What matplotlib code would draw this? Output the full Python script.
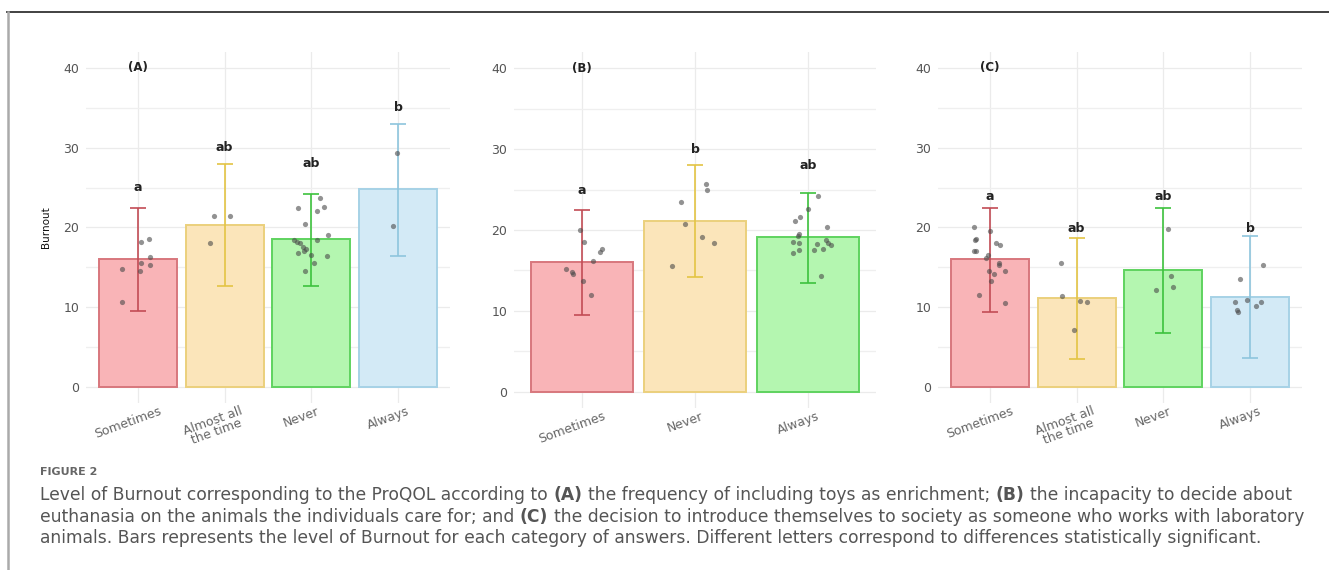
import matplotlib
matplotlib.use("Agg")
import matplotlib.pyplot as plt
import matplotlib.transforms as mtransforms

W, H = 1329, 570

# ---------------- data ----------------
cats_A = ["Sometimes", "Almost all\nthe time", "Never", "Always"]
means_A = [16.0, 20.3, 18.5, 24.8]
lo_A = [9.5, 12.7, 12.7, 16.4]
hi_A = [22.5, 27.9, 24.2, 33.0]
letters_A = ["a", "ab", "ab", "b"]
letter_y_A = [25.0, 30.0, 28.0, 35.0]
pts_A = [
    [(0.04, 18.2), (0.13, 18.6), (0.14, 16.3), (0.04, 15.6), (0.14, 15.3), (-0.19, 14.8), (0.02, 14.5), (-0.19, 10.6)],
    [(-0.12, 21.4), (0.06, 21.4), (-0.17, 18.0)],
    [(0.10, 23.7), (-0.15, 22.5), (0.15, 22.6), (0.06, 22.1), (-0.07, 20.4), (0.19, 19.1), (0.06, 18.4),
     (-0.20, 18.4), (-0.17, 18.2), (-0.13, 18.0), (-0.10, 17.6), (-0.06, 17.3), (-0.15, 16.8), (-0.08, 17.0),
     (0.00, 16.5), (0.18, 16.4), (0.03, 15.5), (-0.07, 14.5)],
    [(-0.01, 29.3), (-0.06, 20.2)],
]

cats_B = ["Sometimes", "Never", "Always"]
means_B = [16.0, 21.1, 19.1]
lo_B = [9.5, 14.2, 13.5]
hi_B = [22.5, 28.0, 24.6]
letters_B = ["a", "b", "ab"]
letter_y_B = [24.9, 29.9, 28.0]
pts_B = [
    [(-0.02, 20.0), (0.02, 18.5), (0.18, 17.6), (0.16, 17.3), (0.10, 16.2), (-0.14, 15.2), (-0.09, 14.8),
     (-0.08, 14.6), (0.01, 13.7), (0.08, 12.0)],
    [(0.10, 25.7), (0.11, 25.0), (-0.12, 23.5), (-0.09, 20.7), (0.06, 19.1), (0.17, 18.4), (-0.20, 15.6)],
    [(0.09, 24.2), (0.00, 22.6), (-0.07, 21.6), (-0.12, 21.1), (0.17, 20.4), (-0.08, 19.5), (-0.09, 19.2),
     (-0.13, 18.5), (-0.08, 18.4), (0.08, 18.3), (0.16, 18.8), (0.18, 18.4), (0.20, 18.1), (0.13, 17.7),
     (0.05, 17.5), (-0.08, 17.5), (-0.13, 17.2), (0.11, 14.3)],
]

cats_C = ["Sometimes", "Almost all\nthe time", "Never", "Always"]
means_C = [16.1, 11.1, 14.7, 11.3]
lo_C = [9.4, 3.5, 6.8, 3.6]
hi_C = [22.5, 18.7, 22.4, 18.9]
letters_C = ["a", "ab", "ab", "b"]
letter_y_C = [23.9, 19.9, 23.9, 19.9]
pts_C = [
    [(-0.18, 20.1), (-0.16, 18.6), (-0.17, 18.4), (0.00, 19.5), (0.07, 18.0), (0.12, 17.8), (-0.19, 17.1),
     (-0.16, 17.1), (-0.02, 16.5), (-0.05, 16.2), (0.10, 15.6), (0.10, 15.3), (-0.01, 14.6), (0.17, 14.6),
     (0.05, 14.2), (0.01, 13.3), (-0.13, 11.6), (0.17, 10.5)],
    [(-0.18, 15.6), (-0.17, 11.4), (0.04, 10.8), (0.12, 10.7), (-0.03, 7.1)],
    [(0.05, 19.8), (0.09, 13.9), (0.11, 12.5), (-0.08, 12.2)],
    [(0.15, 15.3), (-0.12, 13.5), (-0.03, 10.9), (-0.17, 10.6), (0.13, 10.6), (0.07, 10.2), (-0.15, 9.6),
     (-0.14, 9.4)],
]

panel_tags = ["(A)", "(B)", "(C)"]
yticks = [0, 10, 20, 30, 40]
ylabel = "Burnout"

fill_cols = ["#F9B4B7", "#FBE5BA", "#B4F6B0", "#D3EAF6"]
edge_cols = ["#D8777D", "#EBD07C", "#5FD35F", "#A6D2E6"]
err_cols = ["#C24C55", "#E3C444", "#3DC23D", "#8EC5DD"]

caption_head = "FIGURE 2"
caption_lines = [
    [("Level of Burnout corresponding to the ProQOL according to", "normal"), ("(A)", "bold"),
     ("the frequency of including toys as enrichment;", "normal"), ("(B)", "bold"),
     ("the incapacity to decide about", "normal")],
    [("euthanasia on the animals the individuals care for; and", "normal"), ("(C)", "bold"),
     ("the decision to introduce themselves to society as someone who works with laboratory", "normal")],
    [("animals. Bars represents the level of Burnout for each category of answers. Different letters correspond to differences statistically significant.", "normal")],
]

# ---------------- figure ----------------
fig = plt.figure(figsize=(W / 100, H / 100), dpi=100)
fig.patch.set_facecolor("white")


def px_axes(left, top, right, bottom):
    return fig.add_axes([left / W, 1 - bottom / H, (right - left) / W, (bottom - top) / H])


def draw_panel(ax, cats, means, lo, hi, letters, letter_y, pts, tag, show_ylabel):
    n = len(cats)
    xs = list(range(n))
    ax.set_xlim(-0.6, n - 0.4)
    ax.set_ylim(-2, 42)
    for s in ax.spines.values():
        s.set_visible(False)
    ax.set_yticks(yticks)
    ax.set_yticks([5, 15, 25, 35], minor=True)
    ax.set_xticks(xs)
    ax.set_xticklabels([""] * n)
    ax.grid(True, which="major", axis="both", color="#EBEBEB", lw=0.9, zorder=0)
    ax.grid(True, which="minor", axis="y", color="#EFEFEF", lw=0.9, zorder=0)
    ax.set_axisbelow(True)
    ax.tick_params(which="both", length=0)
    ax.tick_params(axis="y", labelsize=9, labelcolor="#555555", pad=5)
    trans = mtransforms.blended_transform_factory(ax.transData, ax.transAxes)
    for i, lab in enumerate(cats):
        ax.annotate(lab, xy=(i, 0), xycoords=trans, xytext=(-7, -1), textcoords="offset points",
                    rotation=20, ha="center", va="top", fontsize=9, color="#666666",
                    linespacing=0.8, annotation_clip=False)
    for i in xs:
        ax.bar(i, means[i], width=0.9, color=fill_cols[i], edgecolor=edge_cols[i], lw=1.4, zorder=2)
        ax.errorbar(i, means[i], yerr=[[means[i] - lo[i]], [hi[i] - means[i]]], fmt="none",
                    ecolor=err_cols[i], elinewidth=1.2, capsize=5.5, capthick=1.2, zorder=3)
        px = [i + d for d, v in pts[i]]
        py = [v for d, v in pts[i]]
        ax.scatter(px, py, s=14, color="#4A4A4A", alpha=0.6, linewidths=0, zorder=4)
        ax.text(i, letter_y[i], letters[i], ha="center", va="center", fontsize=9, fontweight="bold",
                color="#222222", zorder=5)
    ax.text(0, 40, tag, ha="center", va="center", fontsize=8.5, fontweight="bold", color="#222222")
    if show_ylabel:
        ax.set_ylabel(ylabel, fontsize=7.5, color="#111111", labelpad=9)


axA = px_axes(86, 52, 450, 403)
axB = px_axes(514, 52, 876, 408)
axC = px_axes(938, 52, 1302, 403)
draw_panel(axA, cats_A, means_A, lo_A, hi_A, letters_A, letter_y_A, pts_A, panel_tags[0], True)
draw_panel(axB, cats_B, means_B, lo_B, hi_B, letters_B, letter_y_B, pts_B, panel_tags[1], False)
draw_panel(axC, cats_C, means_C, lo_C, hi_C, letters_C, letter_y_C, pts_C, panel_tags[2], False)

# frame lines
fig.add_artist(plt.Line2D([7 / W, 1.0], [1 - 12 / H, 1 - 12 / H], color="#333333", lw=1.3))
fig.add_artist(plt.Line2D([8 / W, 8 / W], [0, 1 - 12 / H], color="#AAAAAA", lw=1.8))

# caption
cap_family = "DejaVu Sans"
cap_color = "#555555"
cap_left = 40.0
line1_target = 1250.0

fig.text(cap_left / W, 1 - 475 / H, caption_head, fontsize=8, fontweight="bold", color="#666666",
         family=cap_family, va="baseline", ha="left")

fig.canvas.draw()
renderer = fig.canvas.get_renderer()


def text_width(s, weight, size):
    t = fig.text(0, 0, s, fontsize=size, family=cap_family, fontweight=weight)
    w = t.get_window_extent(renderer).width
    t.remove()
    return w


def line_width(segs, size):
    sp = text_width("x x", "normal", size) - text_width("xx", "normal", size)
    return sum(text_width(s, w, size) for s, w in segs) + sp * (len(segs) - 1)


base_size = 10.0
cap_size = base_size * line1_target / line_width(caption_lines[0], base_size)
space_w = text_width("x x", "normal", cap_size) - text_width("xx", "normal", cap_size)

baselines = [500, 521.5, 543]
for segs, yb in zip(caption_lines, baselines):
    x = cap_left
    for s, wgt in segs:
        t = fig.text(x / W, 1 - yb / H, s, fontsize=cap_size, family=cap_family, fontweight=wgt,
                     color=cap_color, va="baseline", ha="left")
        x += t.get_window_extent(renderer).width + space_w

fig.savefig("out.png", dpi=100, facecolor="white")
